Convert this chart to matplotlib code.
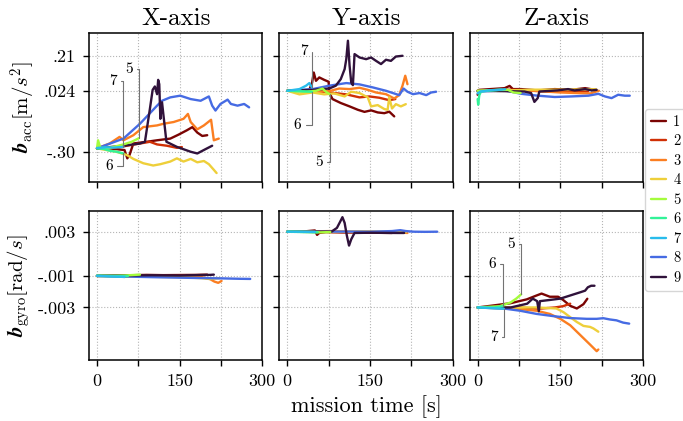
import numpy as np
import matplotlib.pyplot as plt

plt.rcParams['font.family'] = 'serif'
plt.rcParams['font.serif'] = ['cmr10']
plt.rcParams['mathtext.fontset'] = 'cm'
plt.rcParams['axes.unicode_minus'] = False

# flight labels 1..9
flights = ['1', '2', '3', '4', '5', '6', '7', '8', '9']
titles = ['X-axis', 'Y-axis', 'Z-axis']
time_ticks = [0, 75, 150, 225, 300]
time_labels = ['0', '', '150', '', '300']
acc_ticks = [0.21, 0.024, -0.30]
acc_labels = ['.21', '.024', '-.30']
gyro_ticks = [0.003, -0.00052, -0.003]
gyro_labels = ['.003', '-.001', '-.003']

# accelerometer bias, x axis
acc_x_t = [
    [0, 35, 50, 55, 59, 66, 90, 109, 133, 148, 163, 173, 182, 191, 200],
    [0, 35, 54, 78, 96, 109, 127, 145, 154],
    [0, 23, 41, 48, 66, 84, 109, 121, 139, 157, 165, 170, 182, 194, 207, 212, 221],
    [0, 35, 54, 66, 84, 102, 115, 133, 145, 157, 170, 182, 194, 203, 212, 217],
    [0, 2, 6, 23, 48, 63, 76],
    [0, 12, 24, 36, 48],
    [0, 15, 30, 48],
    [0, 48, 78, 109, 118, 133, 151, 170, 188, 203, 209, 215, 224, 237, 243, 255, 267, 276],
    [0, 48, 78, 87, 96, 101, 105, 109, 111, 113, 115, 118, 121, 126, 145, 170, 182, 197, 209],
]
acc_x_v = [
    [-.282, -.286, -.291, -.335, -.317, -.256, -.247, -.239, -.230, -.209, -.186, -.169, -.198, -.216, -.212],
    [-.282, -.279, -.268, -.256, -.247, -.261, -.268, -.279, -.275],
    [-.282, -.256, -.221, -.239, -.212, -.169, -.160, -.151, -.142, -.125, -.099, -.142, -.181, -.160, -.130, -.239, -.230],
    [-.282, -.300, -.317, -.338, -.361, -.373, -.366, -.352, -.335, -.352, -.338, -.356, -.349, -.366, -.396, -.413],
    [-.282, -.239, -.279, -.279, -.261, -.247, -.228],
    [-.282, -.285, -.295, -.300, -.309],
    [-.280, -.276, -.278, -.274],
    [-.282, -.230, -.151, -.055, -.029, -.011, -.002, -.020, -.029, -.006, -.055, -.081, -.046, -.023, -.046, -.055, -.046, -.064],
    [-.282, -.268, -.256, -.247, -.072, .029, .047, .006, .082, .059, -.125, -.037, -.116, -.247, -.274, -.300, -.309, -.286, -.268],
]

# accelerometer bias, y axis
acc_y_t = [
    [0, 40, 45, 48, 52, 58, 67, 75, 76, 82, 97, 113, 128, 140, 152, 164, 176, 185, 194],
    [0, 46, 76, 107, 131, 149, 167, 185, 196],
    [0, 46, 76, 94, 113, 131, 146, 161, 179, 194, 203, 209, 214, 218],
    [0, 22, 46, 67, 85, 104, 116, 131, 146, 152, 164, 176, 182, 185, 190, 197, 206, 215],
    [0, 34, 52, 64, 70, 77],
    [0, 20, 44.6],
    [0, 22, 34, 40, 44.6],
    [0, 46, 76, 107, 131, 155, 179, 203, 211, 218, 228, 240, 252, 261, 270],
    [0, 46, 76, 88, 97, 104, 107, 110, 113, 116, 119, 122, 131, 143, 152, 161, 170, 179, 188, 197, 209],
]
acc_y_v = [
    [.024, .029, .068, .121, .077, .095, .082, .072, .015, -.020, -.041, -.059, -.077, -.088, -.080, -.091, -.095, -.087, -.112],
    [.024, .026, .015, .005, -.011, -.006, -.013, -.026, -.020],
    [.024, .019, .022, .036, .033, .040, .029, .015, .006, -.017, .001, .051, .104, .059],
    [.024, .005, .015, .005, .010, -.006, .019, .012, -.011, -.059, -.052, -.073, -.077, -.011, -.070, -.047, -.059, -.047],
    [.024, .019, .024, .036, .019, .006],
    [.024, .022, .019],
    [.024, .033, .051, .065, .042],
    [.024, .033, .051, .065, .058, .042, .024, .001, .036, .019, .006, .012, .001, .015, .019],
    [.024, .029, .036, .051, .086, .139, .192, .290, .157, .068, .054, .219, .201, .192, .201, .183, .166, .189, .183, .206, .210],
]

# accelerometer bias, z axis
acc_z_t = [
    [0, 3, 49, 58, 64, 79, 109, 140, 170, 195, 213],
    [0, 60, 100, 140, 170, 200],
    [0, 50, 100, 150, 180, 205, 215, 220],
    [0, 50, 100, 150, 200, 215],
    [0, 30, 55, 65, 78],
    [0, 1, 3, 6, 20, 43],
    [0, 5, 20, 43, 50],
    [0, 49, 79, 109, 140, 170, 201, 219, 231, 243, 255, 267, 276],
    [0, 50, 85, 97, 103, 109, 112, 145, 164, 176, 195, 207, 216],
]
acc_z_v = [
    [.003, .029, .038, .050, .033, .033, .026, .033, .029, .038, .029],
    [.024, .030, .024, .020, .022, .020],
    [.024, .026, .024, .015, .012, .010, .020, .024],
    [.024, .026, .030, .030, .032, .032],
    [.024, .028, .029, .015, .012],
    [-.020, -.050, .000, .020, .025, .030],
    [.010, .020, .026, .030, .032],
    [.020, .026, .008, -.002, -.009, -.006, -.002, .008, -.006, -.015, .003, -.002, -.002],
    [.024, .022, .020, .012, -.035, -.015, .020, .026, .033, .026, .033, .026, .029],
]

# gyroscope bias, x axis
gyro_x_t = [
    [0, 30, 60, 90, 120, 150, 180, 200],
    [0, 25, 50, 60, 80, 110, 140, 160],
    [0, 40, 80, 120, 160, 190, 205, 213, 220, 226],
    [0, 50, 100, 150, 190, 205, 215, 222],
    [0, 30, 50, 65, 78],
    [0, 20, 40, 56],
    [0, 25, 50],
    [0, 50, 100, 150, 200, 230, 260, 278],
    [0, 50, 100, 150, 190, 205, 212],
]
gyro_x_v = [
    [-.0005, -.00048, -.00045, -.00042, -.00044, -.00043, -.00042, -.0004],
    [-.0005, -.00052, -.00058, -.0005, -.00046, -.00048, -.0005, -.00047],
    [-.0005, -.00051, -.00053, -.00055, -.00057, -.0006, -.00075, -.00095, -.00105, -.0009],
    [-.0005, -.00053, -.00057, -.0006, -.00068, -.00075, -.0007, -.00068],
    [-.0005, -.0005, -.00047, -.00043, -.0004],
    [-.00048, -.0005, -.00051, -.00052],
    [-.0005, -.00055, -.00058],
    [-.0005, -.00055, -.0006, -.00064, -.00068, -.0007, -.00073, -.00074],
    [-.0005, -.00047, -.00045, -.00047, -.00043, -.00042, -.0004],
]

# gyroscope bias, y axis
gyro_y_t = [
    [0, 30, 50, 54, 58, 70, 100, 150, 190],
    [0, 50, 100, 150, 170],
    [0, 80, 120, 160, 200, 218],
    [0, 80, 140, 190, 215],
    [0, 40, 60, 78],
    [0, 30, 55],
    [0, 25, 50],
    [0, 50, 100, 150, 190, 205, 215, 230, 250, 272],
    [0, 80, 90, 96, 100, 104, 108, 112, 116, 122, 150, 200, 212],
]
gyro_y_v = [
    [.003, .00302, .0031, .00275, .0029, .00298, .00295, .00292, .0029],
    [.003, .00298, .00296, .00298, .00295],
    [.003, .00305, .003, .00298, .00295, .0029],
    [.003, .00298, .00302, .003, .00296],
    [.003, .00298, .00295, .00297],
    [.003, .00297, .00295],
    [.003, .003, .00298],
    [.003, .003, .00301, .003, .00305, .00312, .00305, .003, .00299, .003],
    [.003, .003, .0033, .0038, .00415, .0037, .0027, .0019, .0024, .0029, .00292, .0029, .0029],
]

# gyroscope bias, z axis
gyro_z_t = [
    [0, 59, 89, 107, 116, 131, 146, 155, 168, 180, 192, 199],
    [0, 75, 110, 140, 155, 168],
    [0, 77, 107, 131, 150, 168, 180, 192, 204, 210, 216, 219],
    [0, 77, 107, 143, 156, 168, 180, 192, 204, 210, 219],
    [0, 40, 60, 70, 79],
    [0, 30, 46.4],
    [0, 47.6],
    [0, 47, 77, 107, 138, 168, 198, 216, 228, 240, 252, 264, 275],
    [0, 60, 90, 100, 108, 111, 113, 132, 150, 168, 186, 195, 200, 206, 212],
]
gyro_z_v = [
    [-.003, -.00267, -.00236, -.00205, -.0019, -.00215, -.00215, -.0024, -.00287, -.00308, -.00274, -.00231],
    [-.003, -.0030, -.0031, -.003, -.0029, -.0027],
    [-.003, -.00313, -.00326, -.00351, -.0039, -.00441, -.00492, -.00543, -.00594, -.0062, -.00646, -.00633],
    [-.003, -.003, -.003, -.00308, -.00338, -.00377, -.00415, -.00446, -.00454, -.00466, -.00492],
    [-.003, -.0029, -.0026, -.0023, -.00196],
    [-.003, -.003, -.0029],
    [-.003, -.0031],
    [-.003, -.00308, -.00326, -.00351, -.00369, -.00384, -.0039, -.0039, -.00385, -.00395, -.00402, -.0042, -.00428],
    [-.003, -.003, -.0027, -.0023, -.0025, -.0033, -.0025, -.0024, -.0023, -.00205, -.0018, -.00167, -.0014, -.00128, -.00128],
]

panels_t = [[acc_x_t, acc_y_t, acc_z_t], [gyro_x_t, gyro_y_t, gyro_z_t]]
panels_v = [[acc_x_v, acc_y_v, acc_z_v], [gyro_x_v, gyro_y_v, gyro_z_v]]

# callouts: (row, col, flight index, text position)
callouts = [
    (0, 0, 6, (28.9, .075)),
    (0, 0, 5, (21.7, -.376)),
    (0, 0, 4, (58.4, .140)),
    (0, 1, 6, (30.7, .235)),
    (0, 1, 5, (18.6, -.157)),
    (0, 1, 4, (57.8, -.357)),
    (1, 2, 4, (61.4, .00204)),
    (1, 2, 5, (26.5, .00044)),
    (1, 2, 6, (29.5, -.00534)),
]

colors = plt.cm.turbo(np.linspace(1, 0, 9))
# short flights sit on top of the long ones
zorders = [2, 2, 2, 2, 3, 3, 3, 2, 2.5]

fig, axes = plt.subplots(2, 3, figsize=(6.83, 4.21), dpi=100, sharex=True, sharey='row')
fig.subplots_adjust(left=0.1303, right=0.9414, top=0.9216, bottom=0.1449,
                    wspace=0.098, hspace=0.202)

for r in range(2):
    for c in range(3):
        ax = axes[r, c]
        for k in range(9):
            ax.plot(panels_t[r][c][k], panels_v[r][c][k], color=colors[k], lw=1.7,
                    label=flights[k], zorder=zorders[k], solid_capstyle='round')
        ax.grid(True, ls=':', color='#b5b5b5', lw=0.8)
        ax.tick_params(direction='out', length=4.5, width=1.0, labelsize=13, pad=5)
        for s in ax.spines.values():
            s.set_linewidth(1.1)
        ax.set_xlim(-14.5, 300)
        ax.set_xticks(time_ticks)
        ax.set_xticklabels(time_labels)
for c in range(3):
    axes[0, c].set_title(titles[c], fontsize=18, pad=6)

axes[0, 0].set_ylim(-0.458, 0.331)
axes[0, 0].set_yticks(acc_ticks)
axes[0, 0].set_yticklabels(acc_labels)
axes[1, 0].set_ylim(-0.00716, 0.0046)
axes[1, 0].set_yticks(gyro_ticks)
axes[1, 0].set_yticklabels(gyro_labels)

axes[0, 0].set_ylabel(r'$\mathbfit{b}_{\mathrm{acc}}[\mathrm{m}/s^2]$', fontsize=15, labelpad=4)
axes[1, 0].set_ylabel(r'$\mathbfit{b}_{\mathrm{gyro}}[\mathrm{rad}/s]$', fontsize=15, labelpad=4)
axes[1, 1].set_xlabel('mission time [s]', fontsize=16, labelpad=5)

for r, c, k, pos in callouts:
    ax = axes[r, c]
    xy = (panels_t[r][c][k][-1], panels_v[r][c][k][-1])
    ax.annotate(flights[k], xy=xy, xytext=pos, textcoords='data', fontsize=11,
                ha='center', va='center', zorder=4,
                arrowprops=dict(arrowstyle='-', color='0.45', lw=0.8, shrinkA=1, shrinkB=0,
                                connectionstyle='angle,angleA=0,angleB=90,rad=0'))

handles, labels = axes[0, 0].get_legend_handles_labels()
fig.legend(handles, labels, loc='center left', bbox_to_anchor=(0.945, 0.525),
           fontsize=10.5, handlelength=1.0, handletextpad=0.5, labelspacing=0.4,
           borderpad=0.4, borderaxespad=0)

fig.savefig('out.png', dpi=100)
